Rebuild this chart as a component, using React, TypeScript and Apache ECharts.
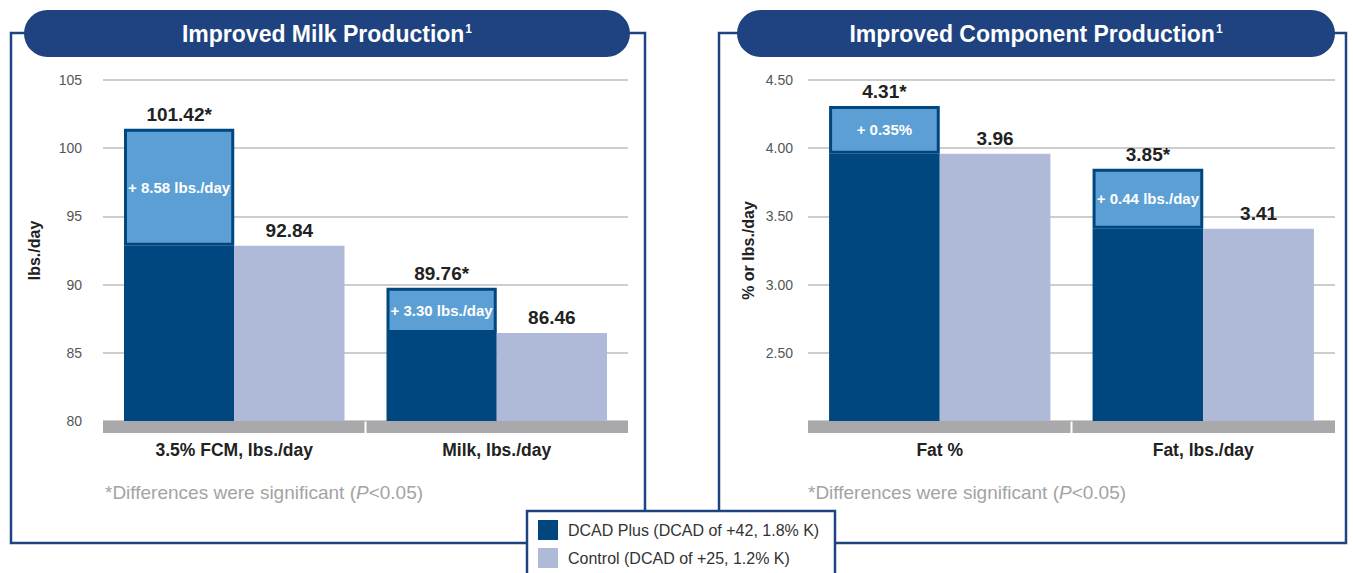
import React, { useEffect, useRef } from "react";
import * as echarts from "echarts";

// ---- data ----
const milkCategories = ["3.5% FCM, lbs./day", "Milk, lbs./day"];
const milkDcad = [101.42, 89.76];
const milkControl = [92.84, 86.46];
const milkDiffLabels = ["+ 8.58 lbs./day", "+ 3.30 lbs./day"];
const milkTicks = { min: 80, max: 105, interval: 5 };

const compCategories = ["Fat %", "Fat, lbs./day"];
const compDcad = [4.31, 3.85];
const compControl = [3.96, 3.41];
const compDiffLabels = ["+ 0.35%", "+ 0.44 lbs./day"];
const compTicks = { min: 2, max: 4.5, interval: 0.5 };

const NAME_DCAD = "DCAD Plus (DCAD of +42, 1.8% K)";
const NAME_CTRL = "Control (DCAD of +25, 1.2% K)";

// ---- styles ----
const BOLD = '"Liberation Sans", Arial, sans-serif';
const REG = '"Liberation Sans", Arial, sans-serif';
const BORDER = "#1e4380";
const DARK = "#00467f";
const LIGHT = "#5b9fd5";
const CTRL = "#afbad9";
const BAND = "#a9a9ac";
const TXT = "#222";

function makeSeries(xi: number, yi: number, dcad: number[], control: number[], diffLabels: string[], ticks: any) {
  const stack = "dcad" + xi;
  const diffs = dcad.map((v, i) => +(v - control[i]).toFixed(2));
  const n = control.length;
  return [
    {
      name: "band" + xi,
      type: "custom",
      xAxisIndex: xi,
      yAxisIndex: yi,
      silent: true,
      z: 1,
      data: control.map((_, i) => [i]),
      renderItem: (params: any, api: any) => {
        const i = api.value(0);
        const c = api.coord([i, ticks.min]);
        const w = api.size([1, 0])[0];
        const left = c[0] - w / 2 + (i > 0 ? 1 : 0);
        const right = c[0] + w / 2 - (i < n - 1 ? 1 : 0);
        return {
          type: "rect",
          shape: { x: left, y: c[1], width: right - left, height: 12 },
          style: { fill: BAND },
        };
      },
    },
    {
      name: NAME_DCAD,
      type: "bar",
      stack,
      xAxisIndex: xi,
      yAxisIndex: yi,
      data: control,
      barWidth: "42%",
      itemStyle: { color: DARK },
    },
    {
      name: "diff" + xi,
      type: "bar",
      stack,
      xAxisIndex: xi,
      yAxisIndex: yi,
      data: diffs,
      barWidth: "42%",
      itemStyle: { color: LIGHT, borderColor: DARK, borderWidth: 3 },
      label: {
        show: true,
        position: "inside",
        overflow: "none",
        formatter: (p: any) => diffLabels[p.dataIndex],
        color: "#fff",
        fontSize: 15,
        fontWeight: "bold",
        fontFamily: BOLD,
      },
    },
    {
      name: "total" + xi,
      type: "bar",
      stack,
      xAxisIndex: xi,
      yAxisIndex: yi,
      data: dcad.map(() => 0),
      barWidth: "42%",
      itemStyle: { color: "transparent" },
      label: {
        show: true,
        position: "top",
        distance: 5,
        formatter: (p: any) => dcad[p.dataIndex].toFixed(2) + "*",
        color: TXT,
        fontSize: 19,
        fontWeight: "bold",
        fontFamily: BOLD,
      },
    },
    {
      name: NAME_CTRL,
      type: "bar",
      xAxisIndex: xi,
      yAxisIndex: yi,
      data: control,
      barWidth: "42%",
      barGap: "0%",
      itemStyle: { color: CTRL },
      label: {
        show: true,
        position: "top",
        distance: 6,
        formatter: (p: any) => (p.value as number).toFixed(2),
        color: TXT,
        fontSize: 19,
        fontWeight: "bold",
        fontFamily: BOLD,
      },
    },
  ];
}

function catAxis(gridIndex: number, data: string[]) {
  return {
    type: "category",
    gridIndex,
    data,
    position: "bottom",
    axisLine: { show: false },
    axisTick: { show: false },
    axisLabel: { margin: 20, fontSize: 17.5, fontWeight: "bold", color: TXT, fontFamily: BOLD },
    splitLine: { show: false },
  };
}

function valueAxis(gridIndex: number, ticks: any, name: string, nameGap: number, margin: number, fmt: (v: number) => string) {
  return {
    type: "value",
    gridIndex,
    min: ticks.min,
    max: ticks.max,
    interval: ticks.interval,
    axisLine: { show: false },
    axisTick: { show: false },
    splitLine: { lineStyle: { color: "#bdbdbd", width: 1.5 } },
    axisLabel: { margin, fontSize: 14, color: "#555", fontFamily: REG, formatter: fmt },
    name,
    nameLocation: "middle",
    nameGap,
    nameTextStyle: { fontSize: 16, fontWeight: "bold", color: TXT, fontFamily: BOLD },
  };
}

const titleRich = {
  t: { fontSize: 23, fontWeight: "bold", fill: "#fff", fontFamily: BOLD },
  s: { fontSize: 12, fontWeight: "bold", fill: "#fff", fontFamily: BOLD, verticalAlign: "top", padding: [0, 0, 0, 1] },
};
const noteRich = {
  a: { fontSize: 19, fill: "#a3a3a3", fontFamily: REG },
  p: { fontSize: 19, fill: "#a3a3a3", fontFamily: REG, fontStyle: "italic" },
};

export default function App() {
  const ref = useRef<HTMLDivElement>(null);
  useEffect(() => {
    if (!ref.current) return;
    const chart = echarts.init(ref.current, null, { renderer: "svg", width: 1353, height: 573 });
    chart.setOption({
      animation: false,
      backgroundColor: "#fff",
      grid: [
        { left: 103, right: 725, top: 80, bottom: 152 },
        { left: 808, right: 18, top: 80, bottom: 152 },
      ],
      xAxis: [catAxis(0, milkCategories), catAxis(1, compCategories)],
      yAxis: [
        valueAxis(0, milkTicks, "lbs./day", 61, 21, (v: number) => String(v)),
        valueAxis(1, compTicks, "% or lbs./day", 52, 15, (v: number) => (v <= compTicks.min + 1e-6 ? "" : v.toFixed(2))),
      ],
      legend: {
        orient: "vertical",
        left: 538,
        top: 520,
        padding: 0,
        itemWidth: 20,
        itemHeight: 20,
        itemGap: 8,
        icon: "rect",
        selectedMode: false,
        z: 12,
        textStyle: { fontSize: 16, color: "#333", fontFamily: REG, padding: [0, 0, 0, 5] },
        data: [NAME_DCAD, NAME_CTRL],
      },
      graphic: [
        { type: "rect", z: 1, shape: { x: 11, y: 33, width: 634, height: 510 }, style: { fill: "none", stroke: BORDER, lineWidth: 2.5 } },
        { type: "rect", z: 1, shape: { x: 719, y: 33, width: 627, height: 510 }, style: { fill: "none", stroke: BORDER, lineWidth: 2.5 } },
        { type: "rect", z: 2, shape: { x: 24, y: 10, width: 606, height: 47, r: 23.5 }, style: { fill: BORDER } },
        { type: "rect", z: 2, shape: { x: 737, y: 10, width: 598, height: 47, r: 23.5 }, style: { fill: BORDER } },
        {
          type: "text", z: 3, x: 327, y: 34,
          style: { text: "{t|Improved Milk Production}{s|1}", rich: titleRich, align: "center", verticalAlign: "middle" },
        },
        {
          type: "text", z: 3, x: 1036, y: 34,
          style: { text: "{t|Improved Component Production}{s|1}", rich: titleRich, align: "center", verticalAlign: "middle" },
        },
        {
          type: "text", z: 3, x: 105, y: 492,
          style: { text: "{a|*Differences were significant (}{p|P}{a|<0.05)}", rich: noteRich, align: "left", verticalAlign: "middle" },
        },
        {
          type: "text", z: 3, x: 808, y: 492,
          style: { text: "{a|*Differences were significant (}{p|P}{a|<0.05)}", rich: noteRich, align: "left", verticalAlign: "middle" },
        },
        { type: "rect", z: 10, shape: { x: 527, y: 511, width: 308, height: 72 }, style: { fill: "#fff", stroke: BORDER, lineWidth: 2.5 } },
      ],
      series: [
        ...makeSeries(0, 0, milkDcad, milkControl, milkDiffLabels, milkTicks),
        ...makeSeries(1, 1, compDcad, compControl, compDiffLabels, compTicks),
      ],
    });
    return () => chart.dispose();
  }, []);
  return <div ref={ref} style={{ position: "absolute", left: 0, top: 0, width: 1353, height: 573 }} />;
}
